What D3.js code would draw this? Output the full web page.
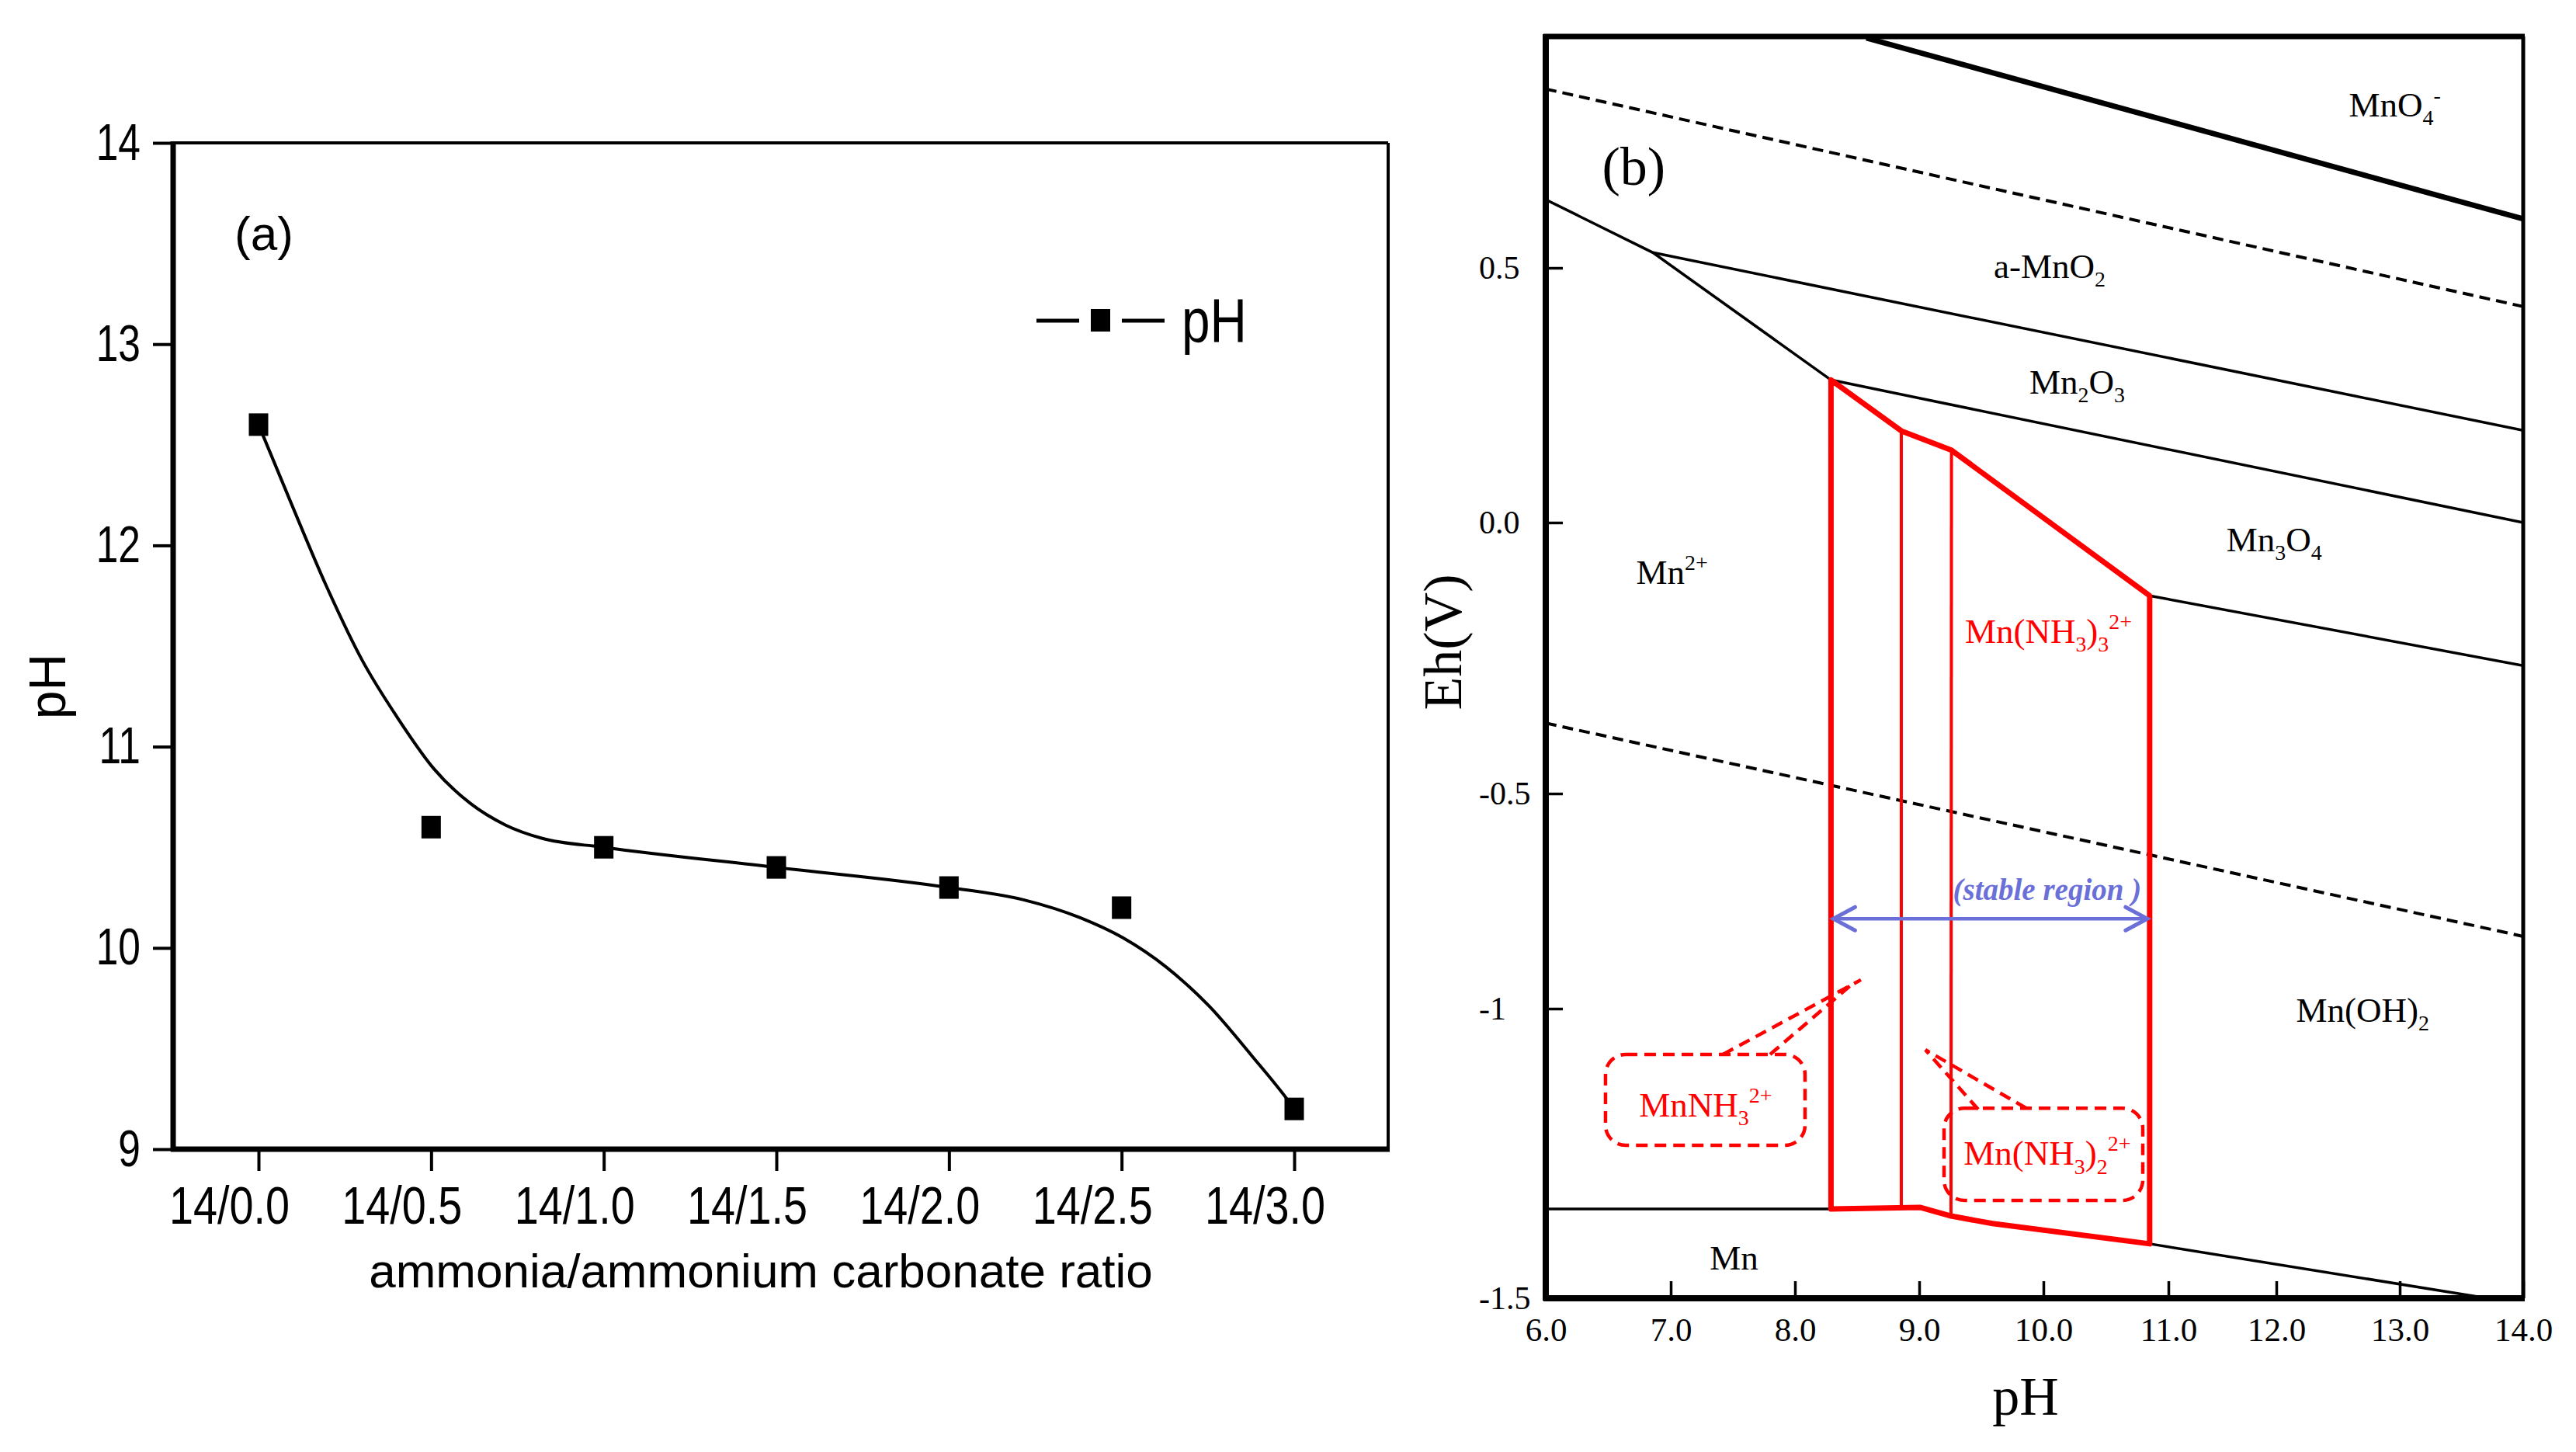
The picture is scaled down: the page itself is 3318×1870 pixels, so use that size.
<!DOCTYPE html>
<html><head><meta charset="utf-8">
<script src="https://cdn.jsdelivr.net/npm/d3@7"></script>
<style>body{margin:0;background:#fff}svg{display:block}</style>
</head><body>
<svg id="c" width="3318" height="1870"></svg>
<script>
// ================= Panel (a) data =================
const ratioLabels = ["14/0.0","14/0.5","14/1.0","14/1.5","14/2.0","14/2.5","14/3.0"];
const ratios = [0, 0.5, 1.0, 1.5, 2.0, 2.5, 3.0];
const phValues = [12.6, 10.6, 10.5, 10.4, 10.3, 10.2, 9.2];
// smooth fitted curve
const fitRatios = [0, 0.092, 0.196, 0.300, 0.404, 0.508, 0.612, 0.716, 0.820, 1.0, 1.5, 2.0, 2.214, 2.380, 2.504, 2.629, 2.754, 2.879, 2.983, 3.0];
const fitPH     = [12.6, 12.22, 11.80, 11.43, 11.14, 10.89, 10.72, 10.61, 10.545, 10.5, 10.4, 10.3, 10.24, 10.15, 10.05, 9.905, 9.71, 9.46, 9.24, 9.2];
const yTicksA = [9, 10, 11, 12, 13, 14];
const legendLabelA = "pH";

// ================= Panel (b) data =================
const phTicks = [6, 7, 8, 9, 10, 11, 12, 13, 14];
const phTickLabels = ["6.0","7.0","8.0","9.0","10.0","11.0","12.0","13.0","14.0"];
const ehTicks = [0.5, 0, -0.5, -1, -1.5];
const ehTickLabels = ["0.5","0.0","-0.5","-1","-1.5"];
const ehTop = 0.954;
// boundaries [pH, Eh]
const mnO4Boundary = [[8.575, 0.951], [14, 0.596]];
const waterUpper = [[6, 0.851], [14, 0.424]];
const waterLower = [[6, -0.370], [14, -0.832]];
const solidBoundaries = [
  [[6, 0.634], [6.857, 0.530], [8.29, 0.280]],
  [[6.857, 0.530], [14, 0.181]],
  [[8.29, 0.280], [14, 0.0]],
  [[10.85, -0.135], [14, -0.264]],
  [[6, -1.346], [8.29, -1.346]],
  [[10.85, -1.406], [13.71, -1.5]]
];
const complexOutline = [[8.29, 0.280], [8.856, 0.180], [9.26, 0.142], [10.85, -0.135], [10.85, -1.406],
  [9.59, -1.371], [9.256, -1.358], [9.006, -1.343], [8.29, -1.346]];
const complexDividers = [
  [[8.856, 0.180], [8.856, -1.343]],
  [[9.26, 0.142], [9.256, -1.358]]
];
const stablePH = [8.29, 10.85];
const stableEh = -0.791;
const stableText = "(stable region )";
// species labels: [text, pH, Eh]
const blackLabels = [
  ["MnO_4^-", 12.96, 0.797],
  ["a-MnO_2", 10.05, 0.480],
  ["Mn_2O_3", 10.27, 0.253],
  ["Mn_3O_4", 11.98, -0.053],
  ["Mn^{2+}", 7.01, -0.113],
  ["Mn(OH)_2", 12.70, -1.023],
  ["Mn", 7.51, -1.45]
];
const redLabels = [
  ["Mn(NH_3)_3^{2+}", 10.04, -0.222],
  ["MnNH_3^{2+}", 7.28, -1.186],
  ["Mn(NH_3)_2^{2+}", 10.03, -1.27]
];
const panelLabelB = ["(b)", 6.45, 0.663];
// callout boxes: [pH0, pH1, EhTop, EhBottom]
const calloutBoxes = [[6.478, 8.081, -1.079, -1.236], [9.20, 10.795, -1.172, -1.331]];
// callout pointer lines: [[pH,Eh],[pH,Eh]]
const calloutPointers = [
  [[7.42, -1.079], [8.531, -0.933]],
  [[7.80, -1.079], [8.456, -0.944]],
  [[9.8625, -1.172], [9.05, -1.071]],
  [[9.475, -1.174], [9.05, -1.071]]
];

// ================= drawing =================
const SANS = "'Liberation Sans', Arial, Helvetica, sans-serif";
const SERIF = "'Liberation Serif', 'Times New Roman', Times, serif";
const RED = "#ff0000", BLUE = "#6a70d8";
const svg = d3.select("#c");
svg.append("rect").attr("width", 3318).attr("height", 1870).attr("fill", "#fff");

function narrow(sel, f) {
  sel.each(function () {
    const L = this.getComputedTextLength();
    d3.select(this).attr("textLength", L * f).attr("lengthAdjust", "spacingAndGlyphs");
  });
}
function parseRich(s) {
  const out = []; let i = 0, buf = "";
  while (i < s.length) {
    const c = s[i];
    if (c === "_" || c === "^") {
      if (buf) { out.push({ type: "n", text: buf }); buf = ""; }
      let txt;
      if (s[i + 1] === "{") { const j = s.indexOf("}", i); txt = s.slice(i + 2, j); i = j + 1; }
      else { txt = s[i + 1]; i += 2; }
      out.push({ type: c === "_" ? "sub" : "sup", text: txt });
    } else { buf += c; i++; }
  }
  if (buf) out.push({ type: "n", text: buf });
  return out;
}
function rich(g, str, x, y, size, fill, anchor) {
  const t = g.append("text").attr("x", x).attr("y", y).attr("font-size", size)
    .attr("font-family", SERIF).attr("fill", fill).attr("text-anchor", anchor || "middle");
  let cur = 0;
  parseRich(str).forEach(tok => {
    const target = tok.type === "sub" ? size * 0.25 : tok.type === "sup" ? -size * 0.40 : 0;
    const ts = t.append("tspan").attr("dy", target - cur).text(tok.text);
    if (tok.type !== "n") ts.attr("font-size", size * 0.62);
    cur = target;
  });
  return t;
}

// ---------------- Panel (a) ----------------
const A = { left: 223, right: 1788, top: 184, bottom: 1480 };
const xA = d3.scaleLinear().domain([0, 3]).range([333, 1667]);
const yA = d3.scaleLinear().domain([9, 14]).range([A.bottom, A.top]);
const gA = svg.append("g");

const axA_x = gA.append("g").attr("transform", `translate(0,${A.bottom})`)
  .call(d3.axisBottom(xA).tickValues(ratios).tickFormat((d, i) => ratioLabels[i]).tickSizeInner(28).tickSizeOuter(0).tickPadding(20));
axA_x.select(".domain").remove();
axA_x.selectAll("line").attr("stroke", "#000").attr("stroke-width", 4);
axA_x.selectAll("text").attr("font-size", 68).attr("font-family", SANS).attr("fill", "#000").attr("x", -38);
narrow(axA_x.selectAll("text"), 0.82);

const axA_y = gA.append("g").attr("transform", `translate(${A.left},0)`)
  .call(d3.axisLeft(yA).tickValues(yTicksA).tickFormat(d3.format("d")).tickSizeInner(26).tickSizeOuter(0).tickPadding(16));
axA_y.select(".domain").remove();
axA_y.selectAll("line").attr("stroke", "#000").attr("stroke-width", 4);
axA_y.selectAll("text").attr("font-size", 66).attr("font-family", SANS).attr("fill", "#000");
narrow(axA_y.selectAll("text"), 0.78);

// frame
gA.append("line").attr("x1", A.left).attr("x2", A.right).attr("y1", A.top).attr("y2", A.top).attr("stroke", "#000").attr("stroke-width", 4);
gA.append("line").attr("x1", A.right).attr("x2", A.right).attr("y1", A.top).attr("y2", A.bottom).attr("stroke", "#000").attr("stroke-width", 4);
gA.append("line").attr("x1", A.left).attr("x2", A.left).attr("y1", A.top - 2).attr("y2", A.bottom + 3).attr("stroke", "#000").attr("stroke-width", 7);
gA.append("line").attr("x1", A.left - 3).attr("x2", A.right + 2).attr("y1", A.bottom).attr("y2", A.bottom).attr("stroke", "#000").attr("stroke-width", 7);

// fitted curve
const fitPts = fitRatios.map((r, i) => [r, fitPH[i]]);
gA.append("path").attr("d", d3.line().x(d => xA(d[0])).y(d => yA(d[1])).curve(d3.curveMonotoneX)(fitPts))
  .attr("fill", "none").attr("stroke", "#000").attr("stroke-width", 4);
// markers
gA.selectAll("rect.pt").data(ratios).enter().append("rect").attr("class", "pt")
  .attr("x", d => xA(d) - 12.5).attr("y", (d, i) => yA(phValues[i]) - 14.5)
  .attr("width", 25).attr("height", 29).attr("fill", "#000");

// axis titles
gA.append("text").attr("transform", "translate(84,884) rotate(-90)").attr("text-anchor", "middle")
  .attr("font-family", SANS).attr("font-size", 66).text("pH");
gA.append("text").attr("x", 980).attr("y", 1658).attr("text-anchor", "middle")
  .attr("font-family", SANS).attr("font-size", 62).text("ammonia/ammonium carbonate ratio");
gA.append("text").attr("x", 302).attr("y", 322).attr("font-family", SANS).attr("font-size", 62).text("(a)");
// legend
gA.append("line").attr("x1", 1335).attr("x2", 1390).attr("y1", 413).attr("y2", 413).attr("stroke", "#000").attr("stroke-width", 5);
gA.append("line").attr("x1", 1445).attr("x2", 1500).attr("y1", 413).attr("y2", 413).attr("stroke", "#000").attr("stroke-width", 5);
gA.append("rect").attr("x", 1405).attr("y", 398).attr("width", 25).attr("height", 29).attr("fill", "#000");
const legT = gA.append("text").attr("x", 1522).attr("y", 440).attr("font-family", SANS).attr("font-size", 80).text(legendLabelA);
narrow(legT, 0.82);

// ---------------- Panel (b) ----------------
const B = { left: 1991, right: 3250, top: 47, bottom: 1672 };
const xB = d3.scaleLinear().domain(phTicks).range([1991, 2152, 2312, 2472, 2632, 2793, 2932, 3091, 3250]);
const yB = d3.scaleLinear().domain([ehTop, 0.5, 0, -0.5, -1, -1.5]).range([47, 345, 673, 1022, 1299, 1672]);
const gB = svg.append("g");
svg.append("defs").append("clipPath").attr("id", "clipB").append("rect")
  .attr("x", B.left).attr("y", B.top).attr("width", B.right - B.left).attr("height", B.bottom - B.top);
const plotB = gB.append("g").attr("clip-path", "url(#clipB)");
const lineB = d3.line().x(d => xB(d[0])).y(d => yB(d[1]));

// water lines
[waterUpper, waterLower].forEach(l => plotB.append("path").attr("d", lineB(l)).attr("fill", "none")
  .attr("stroke", "#000").attr("stroke-width", 4).attr("stroke-dasharray", "14,8"));
// MnO4 boundary
plotB.append("path").attr("d", lineB(mnO4Boundary)).attr("fill", "none").attr("stroke", "#000").attr("stroke-width", 7);
// other boundaries
solidBoundaries.forEach(l => plotB.append("path").attr("d", lineB(l)).attr("fill", "none")
  .attr("stroke", "#000").attr("stroke-width", 3.5));
// ammine complex region
plotB.append("path").attr("d", lineB(complexOutline) + "Z").attr("fill", "none")
  .attr("stroke", RED).attr("stroke-width", 7).attr("stroke-linejoin", "round");
complexDividers.forEach(l => plotB.append("path").attr("d", lineB(l)).attr("fill", "none")
  .attr("stroke", RED).attr("stroke-width", 4));

// stable region arrow
const ax0 = xB(stablePH[0]) + 3, ax1 = xB(stablePH[1]) - 3, ay = yB(stableEh);
plotB.append("line").attr("x1", ax0).attr("x2", ax1).attr("y1", ay).attr("y2", ay).attr("stroke", BLUE).attr("stroke-width", 4.5);
plotB.append("path").attr("d", `M${ax0 + 28},${ay - 15}L${ax0},${ay}L${ax0 + 28},${ay + 15}`).attr("fill", "none").attr("stroke", BLUE).attr("stroke-width", 5).attr("stroke-linecap", "round");
plotB.append("path").attr("d", `M${ax1 - 28},${ay - 15}L${ax1},${ay}L${ax1 - 28},${ay + 15}`).attr("fill", "none").attr("stroke", BLUE).attr("stroke-width", 5).attr("stroke-linecap", "round");
plotB.append("text").attr("x", xB(10.03)).attr("y", yB(-0.747)).attr("text-anchor", "middle")
  .attr("font-family", SERIF).attr("font-style", "italic").attr("font-weight", "bold")
  .attr("font-size", 39).attr("fill", BLUE).text(stableText);

// callouts
calloutBoxes.forEach(b => plotB.append("rect").attr("x", xB(b[0])).attr("y", yB(b[2]))
  .attr("width", xB(b[1]) - xB(b[0])).attr("height", yB(b[3]) - yB(b[2])).attr("rx", 26)
  .attr("fill", "none").attr("stroke", RED).attr("stroke-width", 4.5).attr("stroke-dasharray", "15,9"));
calloutPointers.forEach(l => plotB.append("path").attr("d", lineB(l)).attr("fill", "none")
  .attr("stroke", RED).attr("stroke-width", 4.5).attr("stroke-dasharray", "15,9"));

// labels
blackLabels.forEach(l => rich(plotB, l[0], xB(l[1]), yB(l[2]), 45, "#000"));
redLabels.forEach(l => rich(plotB, l[0], xB(l[1]), yB(l[2]), 45, RED));
plotB.append("text").attr("x", xB(panelLabelB[1])).attr("y", yB(panelLabelB[2]))
  .attr("font-family", SERIF).attr("font-size", 70).text(panelLabelB[0]);

// axes
const axB_x = gB.append("g").attr("transform", `translate(0,${B.bottom})`)
  .call(d3.axisBottom(xB).tickValues(phTicks).tickFormat((d, i) => phTickLabels[i]).tickSizeInner(-22).tickSizeOuter(0).tickPadding(24));
axB_x.select(".domain").remove();
axB_x.selectAll("line").attr("stroke", "#000").attr("stroke-width", 3.5);
axB_x.selectAll("text").attr("font-size", 43).attr("font-family", SERIF).attr("fill", "#000");

const axB_y = gB.append("g").attr("transform", `translate(${B.left},0)`)
  .call(d3.axisLeft(yB).tickValues(ehTicks).tickFormat((d, i) => ehTickLabels[i]).tickSizeInner(-22).tickSizeOuter(0).tickPadding(0));
axB_y.select(".domain").remove();
axB_y.selectAll("line").attr("stroke", "#000").attr("stroke-width", 3.5);
axB_y.selectAll("text").attr("font-size", 42).attr("font-family", SERIF).attr("fill", "#000")
  .attr("text-anchor", "start").attr("x", 1905 - B.left);

// frame
gB.append("line").attr("x1", B.left - 3).attr("x2", B.right + 2).attr("y1", B.top).attr("y2", B.top).attr("stroke", "#000").attr("stroke-width", 7);
gB.append("line").attr("x1", B.right).attr("x2", B.right).attr("y1", B.top).attr("y2", B.bottom).attr("stroke", "#000").attr("stroke-width", 5);
gB.append("line").attr("x1", B.left).attr("x2", B.left).attr("y1", B.top - 3).attr("y2", B.bottom + 3).attr("stroke", "#000").attr("stroke-width", 8);
gB.append("line").attr("x1", B.left - 3).attr("x2", B.right + 2).attr("y1", B.bottom).attr("y2", B.bottom).attr("stroke", "#000").attr("stroke-width", 8);

// axis titles
gB.append("text").attr("transform", "translate(1882,827) rotate(-90)").attr("text-anchor", "middle")
  .attr("font-family", SERIF).attr("font-size", 70).text("Eh(V)");
gB.append("text").attr("x", 2609).attr("y", 1822).attr("text-anchor", "middle")
  .attr("font-family", SERIF).attr("font-size", 70).text("pH");
</script>
</body></html>
